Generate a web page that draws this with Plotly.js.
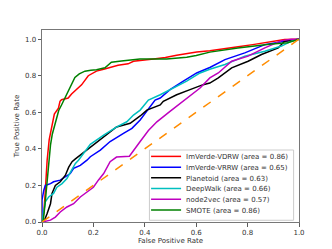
<!DOCTYPE html>
<html>
<head>
<meta charset="utf-8">
<script src="https://cdn.plot.ly/plotly-3.0.1.min.js"></script>
<style>html,body{margin:0;padding:0;background:#fff;}#chart{width:332px;height:249px;}</style>
</head>
<body>
<div id="chart"></div>
<script>
// ---- data ----
const seriesNames = [
  "ImVerde-VDRW (area = 0.86)",
  "ImVerde-VRRW (area = 0.65)",
  "Planetoid (area = 0.63)",
  "DeepWalk (area = 0.66)",
  "node2vec (area = 0.57)",
  "SMOTE (area = 0.86)"
];
const seriesColors = ["#ff0000", "#0000ff", "#000000", "#00bfbf", "#bf00bf", "#008000"];

const vdrwFpr = [0,0.007,0.012,0.02,0.028,0.038,0.048,0.064,0.07,0.076,0.102,0.115,0.141,0.154,0.18,0.212,0.24,0.264,0.296,0.335,0.356,0.434,0.48,0.524,0.602,0.653,0.7,0.763,0.82,0.867,0.944,1];
const vdrwTpr = [0,0.05,0.15,0.338,0.45,0.517,0.59,0.623,0.66,0.669,0.678,0.70,0.733,0.75,0.80,0.825,0.835,0.843,0.857,0.865,0.879,0.892,0.9,0.912,0.93,0.937,0.945,0.958,0.97,0.98,0.998,1];

const vrrwFpr = [0,0,0.007,0.013,0.033,0.045,0.071,0.091,0.11,0.123,0.149,0.175,0.188,0.227,0.265,0.317,0.35,0.382,0.42,0.44,0.46,0.498,0.55,0.602,0.653,0.712,0.789,0.867,0.944,1];
const vrrwTpr = [0,0.12,0.174,0.2,0.21,0.22,0.229,0.247,0.265,0.293,0.31,0.338,0.357,0.393,0.44,0.485,0.512,0.558,0.63,0.667,0.678,0.724,0.77,0.815,0.845,0.888,0.925,0.97,0.989,1];

const planetoidFpr = [0,0.007,0.02,0.033,0.039,0.052,0.071,0.091,0.104,0.117,0.13,0.18,0.24,0.29,0.343,0.382,0.408,0.46,0.472,0.524,0.576,0.627,0.653,0.686,0.738,0.802,0.854,0.919,0.944,0.983,1];
const planetoidTpr = [0,0,0.046,0.1,0.156,0.2,0.22,0.256,0.30,0.33,0.345,0.40,0.466,0.52,0.54,0.58,0.612,0.64,0.66,0.696,0.724,0.751,0.76,0.788,0.843,0.879,0.916,0.952,0.989,0.994,1];

const deepwalkFpr = [0,0.007,0.013,0.026,0.045,0.058,0.078,0.097,0.117,0.13,0.142,0.188,0.24,0.291,0.33,0.356,0.382,0.414,0.46,0.511,0.563,0.615,0.653,0.712,0.789,0.867,0.932,0.97,1];
const deepwalkTpr = [0,0.064,0.11,0.137,0.156,0.19,0.21,0.238,0.283,0.32,0.338,0.425,0.475,0.52,0.548,0.585,0.612,0.667,0.696,0.733,0.77,0.815,0.835,0.861,0.907,0.934,0.962,0.989,1];

const node2vecFpr = [0,0.033,0.052,0.071,0.097,0.123,0.149,0.175,0.2,0.22,0.24,0.265,0.29,0.34,0.36,0.382,0.414,0.447,0.498,0.563,0.615,0.653,0.686,0.738,0.802,0.867,0.932,0.97,1];
const node2vecTpr = [0,0.01,0.027,0.055,0.082,0.1,0.137,0.165,0.19,0.23,0.265,0.33,0.355,0.36,0.4,0.44,0.5,0.548,0.605,0.678,0.733,0.788,0.815,0.879,0.907,0.952,0.992,1,1];

const smoteFpr = [0,0.005,0.012,0.02,0.026,0.033,0.04,0.05,0.057,0.065,0.076,0.09,0.102,0.115,0.128,0.145,0.167,0.19,0.212,0.245,0.27,0.309,0.381,0.485,0.563,0.6,0.653,0.762,0.893,0.956,1];
const smoteTpr = [0,0.01,0.1,0.23,0.338,0.42,0.48,0.53,0.57,0.61,0.64,0.68,0.72,0.76,0.79,0.81,0.825,0.83,0.833,0.843,0.874,0.881,0.892,0.892,0.901,0.91,0.929,0.952,0.974,0.98,1];

const chanceX = [0, 1];
const chanceY = [0, 1];

const tickVals = [0, 0.2, 0.4, 0.6, 0.8, 1.0];
const tickText = ["0.0", "0.2", "0.4", "0.6", "0.8", "1.0"];

// ---- traces ----
const xs = [vdrwFpr, vrrwFpr, planetoidFpr, deepwalkFpr, node2vecFpr, smoteFpr];
const ys = [vdrwTpr, vrrwTpr, planetoidTpr, deepwalkTpr, node2vecTpr, smoteTpr];
const legendIds = ["legend", "legend2", "legend3", "legend4", "legend5", "legend6"];
const traces = seriesNames.map((n, i) => ({
  x: xs[i], y: ys[i], name: n, type: "scatter", mode: "lines",
  legend: legendIds[i],
  line: {color: seriesColors[i], width: 1.5}
}));
traces.push({
  x: chanceX, y: chanceY, type: "scatter", mode: "lines", showlegend: false,
  line: {color: "#ff8c00", width: 1.5, dash: "dash"}
});

const axisCommon = {
  showgrid: false, zeroline: false, showline: true, mirror: true,
  linecolor: "#777", linewidth: 1,
  ticks: "outside", ticklen: 3.5, tickwidth: 0.8, tickcolor: "#333",
  tickvals: tickVals, ticktext: tickText,
  tickfont: {size: 7, color: "#333"}
};

const layout = {
  width: 332, height: 249,
  margin: {l: 42, r: 33, t: 30, b: 27, pad: 0},
  paper_bgcolor: "#fff", plot_bgcolor: "#fff",
  font: {family: "DejaVu Sans", size: 7, color: "#333"},
  showlegend: true,
  xaxis: Object.assign({}, axisCommon, {
    range: [0, 1],
    title: {text: "False Positive Rate", font: {size: 7, color: "#333"}, standoff: 2}
  }),
  yaxis: Object.assign({}, axisCommon, {
    range: [0, 1.05],
    title: {text: "True Positive Rate", font: {size: 7, color: "#333"}, standoff: 4}
  }),
  shapes: [{
    type: "rect", xref: "paper", yref: "paper",
    x0: 0.418, x1: 0.979, y0: 0.009, y1: 0.375,
    line: {color: "#ccc", width: 1}, fillcolor: "rgba(255,255,255,0.8)", layer: "above"
  }]
};
// one legend per row so rows can sit as tightly as in the reference
const rowY = [0.3417, 0.2858, 0.2299, 0.1745, 0.1186, 0.0627];
legendIds.forEach((id, i) => {
  layout[id] = {
    x: 0.405, y: rowY[i], xanchor: "left", yanchor: "middle",
    bgcolor: "rgba(0,0,0,0)", borderwidth: 0,
    font: {size: 7, color: "#333"}, itemwidth: 30, tracegroupgap: 0
  };
});

Plotly.newPlot("chart", traces, layout, {displayModeBar: false, staticPlot: true});
</script>
</body>
</html>
